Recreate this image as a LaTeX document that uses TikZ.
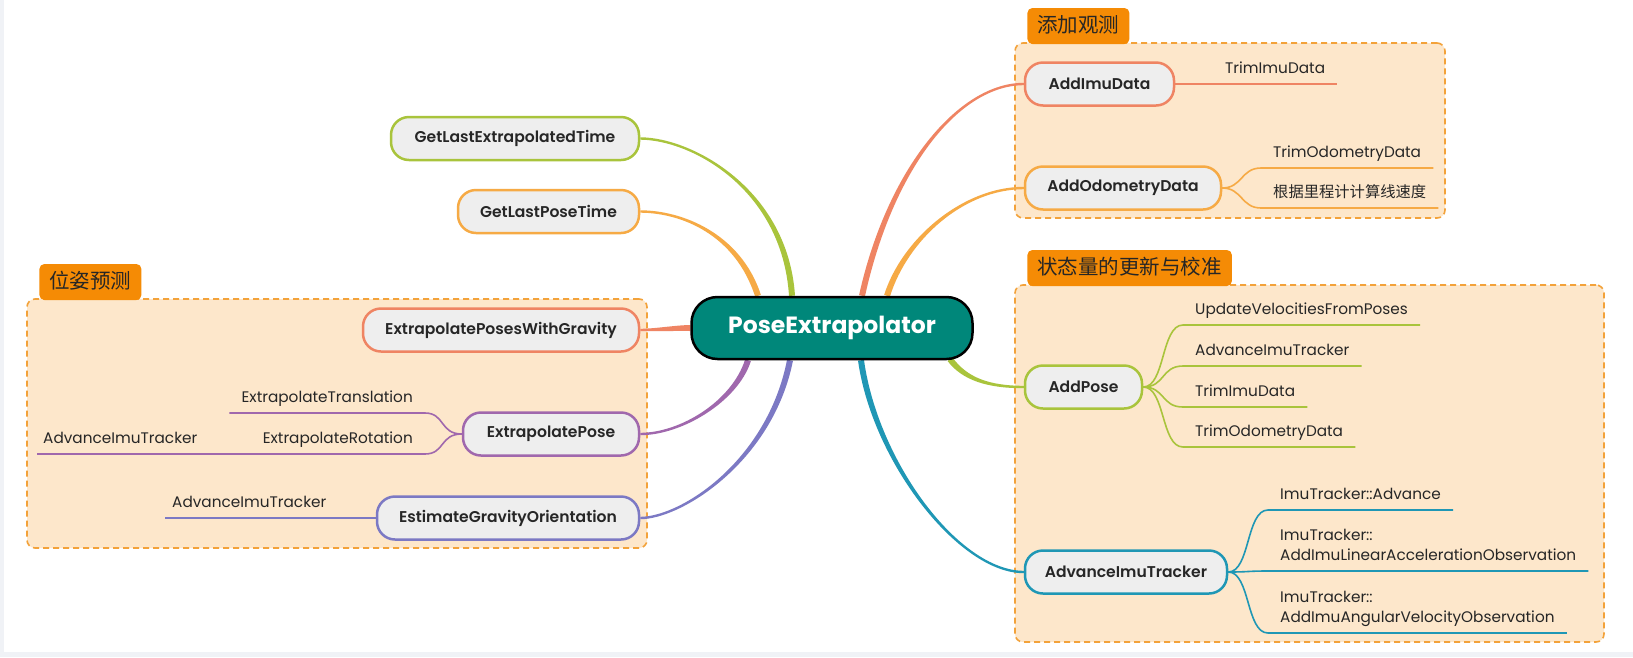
\documentclass[tikz,border=0pt]{standalone}
\usepackage{fontspec}
\setmainfont{Poppins}
\newfontfamily\semib{Poppins SemiBold}
\newfontfamily\cjk{Noto Sans CJK SC}
\usetikzlibrary{calc}
\definecolor{hubteal}{HTML}{00877A}
\definecolor{limeb}{HTML}{A9C43C}
\definecolor{orangeb}{HTML}{F6AA45}
\definecolor{coralb}{HTML}{EF8463}
\definecolor{purpleb}{HTML}{A068AD}
\definecolor{indigob}{HTML}{7C79C4}
\definecolor{tealb}{HTML}{1F97B5}
\definecolor{grpfill}{HTML}{FDE7CB}
\definecolor{grpline}{HTML}{F3A23A}
\definecolor{tabfill}{HTML}{F58B05}
\definecolor{nodefill}{HTML}{EEEEEE}
\definecolor{ink}{HTML}{262626}
\definecolor{framegray}{HTML}{F0F2F6}
\pgfdeclarelayer{back}
\pgfdeclarelayer{groups}
\pgfdeclarelayer{links}
\pgfsetlayers{back,groups,links,main}
% tapered main branch: colour, start, start control (rel), end control (rel), end
\newcommand{\bough}[5]{%
  \path (#2) coordinate (bA) ($(bA)+(#3)$) coordinate (bC)
        (#5) coordinate (bB) ($(bB)+(#4)$) coordinate (bD);
  \fill[#1] ($(bA)!3pt!90:(bC)$)
    .. controls ($(bC)!2.8pt!-90:(bA)$) and ($(bD)!1.3pt!90:(bB)$)
    .. ($(bB)!1.2pt!-90:(bD)$)
    -- ($(bB)!1.2pt!90:(bD)$)
    .. controls ($(bD)!1.3pt!-90:(bB)$) and ($(bC)!2.8pt!90:(bA)$)
    .. ($(bA)!3pt!-90:(bC)$) -- cycle;}

\begin{document}
\begin{tikzpicture}[x=1pt,y=-1pt,
  topic/.style={draw=#1,fill=nodefill,line width=2.5pt,rounded corners=18pt,
    minimum height=43pt,inner xsep=0pt,text=ink,
    font=\semib\fontsize{15.6}{18}\selectfont},
  leaf/.style={inner xsep=12pt,inner ysep=10pt,text depth=0pt,text=ink,
    font=\fontsize{15.3}{20}\selectfont},
  branchline/.style={draw=#1,line width=1.6pt},
  grp/.style={draw=grpline,fill=grpfill,dash pattern=on 6pt off 4pt,
    line width=1.6pt,rounded corners=8pt},
  grptab/.style={fill=tabfill,rounded corners=5pt,inner xsep=10pt,inner ysep=8pt,
    text height=16pt,text depth=4pt,text=ink,anchor=south west,
    font=\cjk\fontsize{20.5}{24}\selectfont}]
\useasboundingbox (0,0) rectangle (1633,657);
\begin{pgfonlayer}{back}
\fill[framegray] (0,0) rectangle (1633,657);
\fill[white] (4,0) rectangle (1633,652);
\end{pgfonlayer}

% groups
\begin{pgfonlayer}{groups}
\node[grp,minimum width=620pt,minimum height=249pt] (grpL) at (337,423.5) {};
\node[grp,minimum width=430pt,minimum height=175pt] (grpA) at (1230,130.5) {};
\node[grp,minimum width=589pt,minimum height=357pt] (grpB) at (1309.5,463.5) {};
\node[grptab] (tabL) at ($(grpL.north west)+(13,2)$) {位姿预测};
\node[grptab] (tabA) at ($(grpA.north west)+(13,2)$) {添加观测};
\node[grptab] (tabB) at ($(grpB.north west)+(13,2)$) {状态量的更新与校准};
\end{pgfonlayer}

% hub
\node[draw=black,fill=hubteal,line width=2.5pt,rounded corners=26pt,
  minimum width=281pt,minimum height=62pt,text=white,
  font=\bfseries\fontsize{23.5}{28}\selectfont] (pe) at (832,328) {PoseExtrapolator};

% left topics
\node[topic=limeb,minimum width=248pt] (glet) at (515,138.5) {GetLastExtrapolatedTime};
\node[topic=orangeb,minimum width=181pt] (glpt) at (548.5,211.5) {GetLastPoseTime};
\node[topic=coralb,minimum width=276pt] (epwg) at (501,330) {ExtrapolatePosesWithGravity};
\node[topic=purpleb,minimum width=176pt] (ep) at (551,434) {ExtrapolatePose};
\node[topic=indigob,minimum width=262pt] (ego) at (508,518) {EstimateGravityOrientation};

% right topics
\node[topic=coralb,minimum width=149pt] (aid) at (1099.5,84) {AddImuData};
\node[topic=orangeb,minimum width=196pt] (aod) at (1123,188) {AddOdometryData};
\node[topic=limeb,minimum width=117pt] (ap) at (1083.5,387) {AddPose};
\node[topic=tealb,minimum width=202pt] (ait) at (1126,572) {AdvanceImuTracker};

% leaves
\node[leaf,anchor=south east] (ltr) at (425,413) {ExtrapolateTranslation};
\node[leaf,anchor=south east] (lrot) at (425,454) {ExtrapolateRotation};
\node[leaf,anchor=south west,inner xsep=6pt] (lai1) at (37,454) {AdvanceImuTracker};
\node[leaf,anchor=south west,inner xsep=7pt] (lai2) at (165,518) {AdvanceImuTracker};
\node[leaf,anchor=south west] (ltid) at (1213,84) {TrimImuData};
\node[leaf,anchor=south west] (ltod) at (1261,168) {TrimOdometryData};
\node[leaf,anchor=south west] (lvel) at (1261,208) {\cjk 根据里程计计算线速度};
\node[leaf,anchor=south west] (lupd) at (1183,325) {UpdateVelocitiesFromPoses};
\node[leaf,anchor=south west] (laim) at (1183,366) {AdvanceImuTracker};
\node[leaf,anchor=south west] (ltid2) at (1183,407) {TrimImuData};
\node[leaf,anchor=south west] (ltod2) at (1183,447) {TrimOdometryData};
\node[leaf,anchor=south west] (ladv) at (1268,510) {ImuTracker::Advance};
\node[leaf,anchor=south west,align=left] (llin) at (1268,571)
  {ImuTracker::\\AddImuLinearAccelerationObservation};
\node[leaf,anchor=south west,align=left] (lang) at (1268,633)
  {ImuTracker::\\AddImuAngularVelocityObservation};

\begin{pgfonlayer}{links}
\bough{limeb}{$(pe.north)+(-40,0)$}{-7,-107}{51,0}{glet.east}
\bough{orangeb}{$(pe.north)+(-74,0)$}{-20,-62}{41,0}{glpt.east}
\bough{coralb}{pe.west}{-15,0}{15,0}{epwg.east}
\bough{purpleb}{$(pe.south)+(-84,0)$}{-13,41}{41,0}{ep.east}
\bough{indigob}{$(pe.south)+(-42,0)$}{-20,101}{41,0}{ego.east}
\bough{coralb}{$(pe.north)+(30,0)$}{28,-127}{-65,0}{aid.west}
\bough{orangeb}{$(pe.north)+(55,0)$}{18,-57}{-60,0}{aod.west}
\bough{limeb}{$(pe.south)+(118,-1)$}{15,20}{-35,0}{ap.west}
\bough{tealb}{$(pe.south)+(29,0)$}{14,101}{-65,0}{ait.west}
% leaf lines
\draw[branchline=purpleb] (ep.west) .. controls +(-22,0) and +(20,0) .. (ltr.south east) -- (ltr.south west);
\draw[branchline=purpleb] (ep.west) .. controls +(-22,0) and +(20,0) .. (lrot.south east)
  -- (lrot.south west) -- (lai1.south west);
\draw[branchline=indigob] (ego.west) -- (lai2.south west);
\draw[branchline=coralb] (aid.east) -- (ltid.south east);
\foreach \leaf in {ltod,lvel}
  \draw[branchline=orangeb] (aod.east) .. controls +(20,0) and +(-20,0) .. (\leaf.south west) -- (\leaf.south east);
\foreach \leaf in {lupd,laim,ltid2,ltod2}
  \draw[branchline=limeb] (ap.east) .. controls +(22,0) and +(-22,0) .. (\leaf.south west) -- (\leaf.south east);
\foreach \leaf in {ladv,llin,lang}
  \draw[branchline=tealb] (ait.east) .. controls +(22,0) and +(-22,0) .. (\leaf.south west) -- (\leaf.south east);
\end{pgfonlayer}
\end{tikzpicture}
\end{document}
